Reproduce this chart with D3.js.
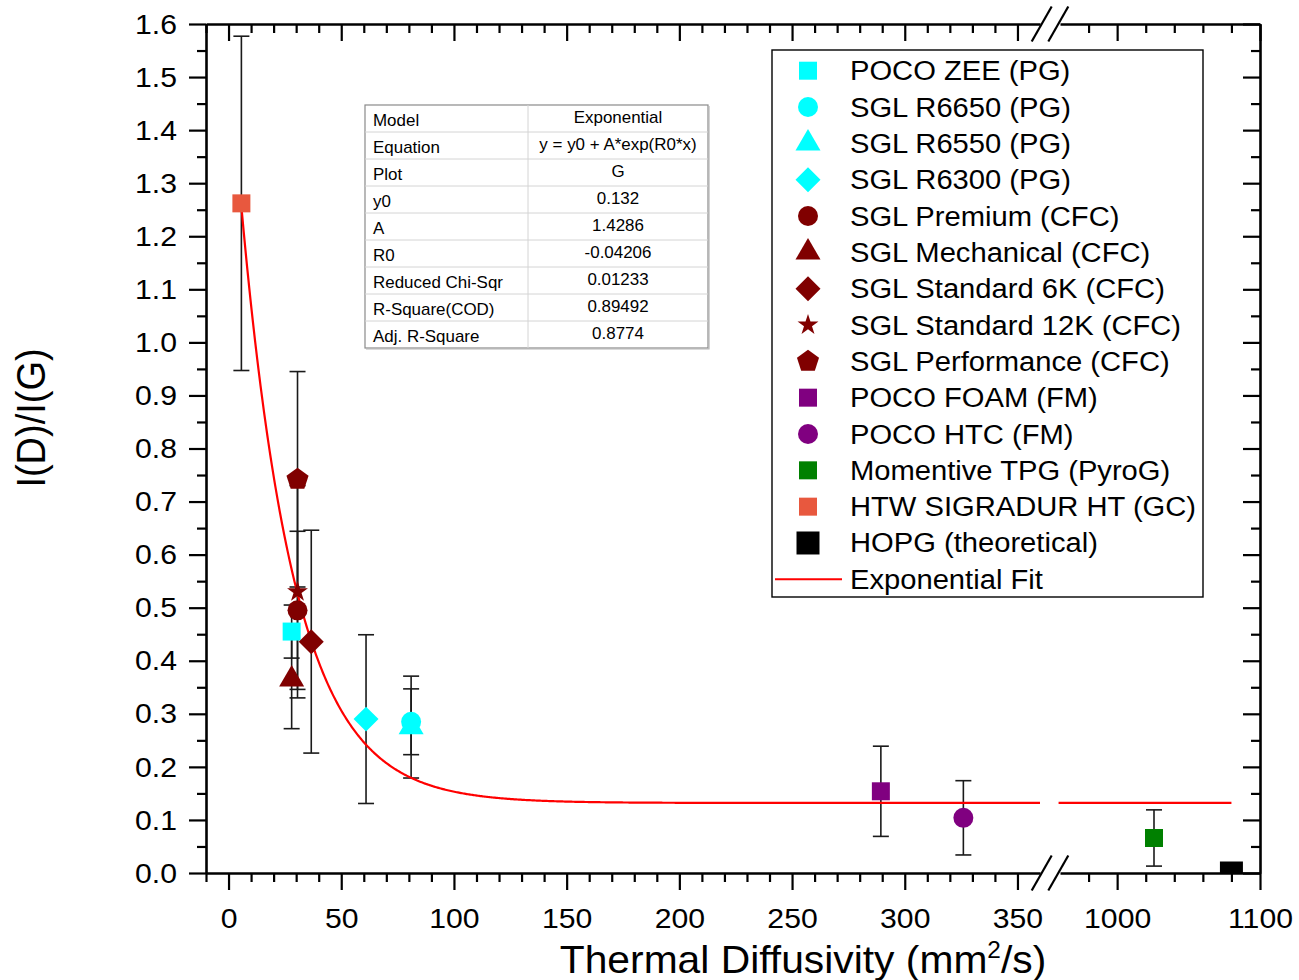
<!DOCTYPE html>
<html>
<head>
<meta charset="utf-8">
<script src="https://cdn.jsdelivr.net/npm/d3@7"></script>
<style>
  html, body { margin: 0; padding: 0; background: #fff; }
  svg { display: block; font-family: "Liberation Sans", Arial, sans-serif; }
</style>
</head>
<body>
<svg id="chart" width="1299" height="980"></svg>
<script>
// ---- data ----
const seriesNames = [
  "POCO ZEE (PG)", "SGL R6650 (PG)", "SGL R6550 (PG)", "SGL R6300 (PG)",
  "SGL Premium (CFC)", "SGL Mechanical (CFC)", "SGL Standard 6K (CFC)",
  "SGL Standard 12K (CFC)", "SGL Performance (CFC)", "POCO FOAM (FM)",
  "POCO HTC (FM)", "Momentive TPG (PyroG)", "HTW SIGRADUR HT (GC)",
  "HOPG (theoretical)"
];
const diffusivity = [28.0, 81.0, 81.0, 61.0, 30.6, 28.0, 36.7, 30.6, 30.6, 289.4, 326.0, 1025.8, 5.7, 1080];
const ratioDG     = [0.455, 0.285, 0.275, 0.290, 0.495, 0.365, 0.436, 0.530, 0.742, 0.154, 0.104, 0.066, 1.262, 0.0];
const ratioError  = [0.050, 0.062, 0.096, 0.159, 0.149, 0.093, 0.210, 0.200, 0.203, 0.085, 0.070, 0.053, 0.315, 0];

// exponential fit parameters
const fitY0 = 0.132, fitA = 1.4286, fitR0 = -0.04206;
const fitChiSqr = 0.01233, fitRSquare = 0.89492, fitAdjRSquare = 0.8774;

const tableLabels = ["Model", "Equation", "Plot", "y0", "A", "R0", "Reduced Chi-Sqr", "R-Square(COD)", "Adj. R-Square"];
const tableValues = ["Exponential", "y = y0 + A*exp(R0*x)", "G", fitY0, fitA, fitR0, fitChiSqr, fitRSquare, fitAdjRSquare];

// axis ticks
const yTicks = [0, 0.1, 0.2, 0.3, 0.4, 0.5, 0.6, 0.7, 0.8, 0.9, 1.0, 1.1, 1.2, 1.3, 1.4, 1.5, 1.6];
const xTicksLow = [0, 50, 100, 150, 200, 250, 300, 350];
const xTicksHigh = [1000, 1100];

// ---- styles ----
const cyan = "#00ffff", maroon = "#800000", purple = "#800080", green = "#008000", orange = "#e8583e";
const markerColors = [cyan, cyan, cyan, cyan, maroon, maroon, maroon, maroon, maroon, purple, purple, green, orange, "#000"];

const symbolRotDiamond = {
  draw(ctx, size) {
    const r = Math.sqrt(size / 2);
    ctx.moveTo(0, -r); ctx.lineTo(r, 0); ctx.lineTo(0, r); ctx.lineTo(-r, 0); ctx.closePath();
  }
};
const symbolPentagon = {
  draw(ctx, size) {
    const R = Math.sqrt(size);
    for (let i = 0; i < 5; i++) {
      const a = -Math.PI / 2 + i * 2 * Math.PI / 5;
      const px = R * Math.cos(a), py = R * Math.sin(a);
      if (i === 0) ctx.moveTo(px, py); else ctx.lineTo(px, py);
    }
    ctx.closePath();
  }
};
const sq = d3.symbolSquare, ci = d3.symbolCircle, tr = d3.symbolTriangle, st = d3.symbolStar;
const markerTypes = [sq, ci, tr, symbolRotDiamond, ci, tr, symbolRotDiamond, st, symbolPentagon, sq, ci, sq, sq, sq];
const markerSizes = [324, 314, 271, 312, 314, 271, 312, 136, 135, 324, 314, 324, 324, 529];

const SX = 1.06; // horizontal text stretch

// ---- layout ----
const L = 206, R = 1260, T = 24, B = 873;
const BREAK_LO = 1040, BREAK_HI = 1060;

const y = d3.scaleLinear([0, 1.6], [B, T]);
const xLow = d3.scaleLinear([-10, 360], [L, BREAK_LO]);
const xHigh = d3.scaleLinear([960, 1100], [BREAK_HI, R]);
const xAt = v => (v <= 360 ? xLow(v) : xHigh(v));

const svg = d3.select("#chart");
const defs = svg.append("defs");
defs.append("clipPath").attr("id", "plotClip")
  .append("rect").attr("x", L).attr("y", T).attr("width", R - L).attr("height", B - T);

// ---- axes ----
const yMinor = d3.range(0.05, 1.6, 0.1);
const xMinorLow = d3.range(-10, 360, 10).filter(v => v % 50 !== 0);
const xMinorHigh = [980, 1020, 1040, 1060, 1080];

function styleAxis(g, showDomain) {
  g.select(".domain").attr("stroke", "#000").attr("stroke-width", 2.6);
  if (!showDomain) g.select(".domain").remove();
  g.selectAll(".tick line").attr("stroke", "#000").attr("stroke-width", 2.2);
  g.selectAll(".tick text").style("font-size", "28.5px")
    .style("font-family", '"Liberation Sans", Arial, sans-serif').attr("fill", "#000");
}

// bottom and top
[[xLow, xTicksLow, xMinorLow], [xHigh, xTicksHigh, xMinorHigh]].forEach(([sc, major, minor]) => {
  svg.append("g").attr("transform", `translate(0,${B})`)
    .call(d3.axisBottom(sc).tickValues(minor).tickSize(9).tickSizeOuter(0).tickFormat(""))
    .call(g => styleAxis(g, false));
  svg.append("g").attr("transform", `translate(0,${B})`)
    .call(d3.axisBottom(sc).tickValues(major).tickSize(17).tickSizeOuter(0).tickPadding(18).tickFormat(d3.format("d")))
    .call(g => styleAxis(g, true))
    .call(g => g.selectAll(".tick text").attr("transform", `scale(${SX},1)`));
  svg.append("g").attr("transform", `translate(0,${T})`)
    .call(d3.axisBottom(sc).tickValues(minor).tickSize(9).tickSizeOuter(0).tickFormat(""))
    .call(g => styleAxis(g, false));
  svg.append("g").attr("transform", `translate(0,${T})`)
    .call(d3.axisBottom(sc).tickValues(major).tickSize(17).tickSizeOuter(0).tickFormat(""))
    .call(g => styleAxis(g, true));
});

// left
svg.append("g").attr("transform", `translate(${L},0)`)
  .call(d3.axisLeft(y).tickValues(yMinor).tickSize(9).tickSizeOuter(0).tickFormat(""))
  .call(g => styleAxis(g, false));
svg.append("g").attr("transform", `translate(${L},0)`)
  .call(d3.axisLeft(y).tickValues(yTicks).tickSize(17).tickSizeOuter(0).tickFormat(d3.format(".1f")))
  .call(g => styleAxis(g, true))
  .call(g => g.selectAll(".tick text").attr("x", -29 / SX).attr("transform", `scale(${SX},1)`));
// right
svg.append("g").attr("transform", `translate(${R},0)`)
  .call(d3.axisLeft(y).tickValues(yMinor).tickSize(9).tickSizeOuter(0).tickFormat(""))
  .call(g => styleAxis(g, false));
svg.append("g").attr("transform", `translate(${R},0)`)
  .call(d3.axisLeft(y).tickValues(yTicks).tickSize(17).tickSizeOuter(0).tickFormat(""))
  .call(g => styleAxis(g, true));

// axis break marks
const breakCenters = [1041.7, 1058.3];
[T, B].forEach(yy => {
  breakCenters.forEach(cx => {
    svg.append("line")
      .attr("x1", cx - 10).attr("y1", yy + 17.5)
      .attr("x2", cx + 10).attr("y2", yy - 17.5)
      .attr("stroke", "#000").attr("stroke-width", 2.2);
  });
});

// axis titles
svg.append("text")
  .attr("transform", `translate(45,418) scale(${SX},1) rotate(-90)`)
  .attr("text-anchor", "middle")
  .style("font-size", "38px")
  .text("I(D)/I(G)");

const xTitle = svg.append("text")
  .attr("transform", `translate(803,973) scale(${SX},1)`)
  .attr("text-anchor", "middle")
  .style("font-size", "38.5px");
xTitle.append("tspan").text("Thermal Diffusivity (mm");
xTitle.append("tspan").attr("dy", -15).style("font-size", "23px").text("2");
xTitle.append("tspan").attr("dy", 15).text("/s)");

// ---- plot contents ----
const plot = svg.append("g").attr("clip-path", "url(#plotClip)");
const points = seriesNames.map((name, i) => ({
  name, x: diffusivity[i], y: ratioDG[i], e: ratioError[i],
  color: markerColors[i], type: markerTypes[i], size: markerSizes[i]
}));

// error bars
const capW = 8;
const eb = plot.append("g").attr("stroke", "#1a1a1a").attr("stroke-width", 1.6);
points.filter(p => p.e > 0).forEach(p => {
  const px = xAt(p.x), y1 = y(p.y - p.e), y2 = y(p.y + p.e);
  eb.append("line").attr("x1", px).attr("x2", px).attr("y1", y1).attr("y2", y2);
  eb.append("line").attr("x1", px - capW).attr("x2", px + capW).attr("y1", y1).attr("y2", y1);
  eb.append("line").attr("x1", px - capW).attr("x2", px + capW).attr("y1", y2).attr("y2", y2);
});

// exponential fit
const fit = x => fitY0 + fitA * Math.exp(fitR0 * x);
const xStart = d3.min(diffusivity), xEnd = d3.max(diffusivity);
const fitLine = d3.line().x(d => xAt(d)).y(d => y(fit(d)));
const segLow = d3.range(xStart, 360, 0.5).concat([360]);
const segHigh = [959, xEnd];
[segLow, segHigh].forEach(seg => {
  plot.append("path").attr("d", fitLine(seg))
    .attr("fill", "none").attr("stroke", "#ff0000").attr("stroke-width", 2.2);
});

// markers
plot.selectAll("path.marker").data(points).join("path")
  .attr("class", "marker")
  .attr("transform", d => `translate(${xAt(d.x)},${y(d.y)})`)
  .attr("d", d => d3.symbol().type(d.type).size(d.size)())
  .attr("fill", d => d.color);

// ---- fit result table ----
const tb = { x: 365, y: 105, w: 343, rowH: 27, split: 528 };
const table = svg.append("g");
const tH = tb.rowH * tableLabels.length;
table.append("rect").attr("x", tb.x).attr("y", tb.y).attr("width", tb.w).attr("height", tH)
  .attr("fill", "#fff").attr("stroke", "#8a8a8a").attr("stroke-width", 1.2);
table.append("path")
  .attr("d", `M${tb.x + tb.w + 1},${tb.y + 1}V${tb.y + tH + 1}H${tb.x + 1}`)
  .attr("fill", "none").attr("stroke", "#b5b5b5").attr("stroke-width", 1.2);
tableLabels.forEach((lab, i) => {
  const top = tb.y + i * tb.rowH;
  if (i > 0) table.append("line").attr("x1", tb.x).attr("x2", tb.x + tb.w)
    .attr("y1", top).attr("y2", top).attr("stroke", "#d4d4d4").attr("stroke-width", 1);
  table.append("text").attr("transform", `translate(${tb.x + 8},${top + 21}) scale(${SX},1)`)
    .style("font-size", "16px").text(lab);
  table.append("text").attr("transform", `translate(${(tb.split + tb.x + tb.w) / 2},${top + 18}) scale(${SX},1)`)
    .attr("text-anchor", "middle").style("font-size", "16px").text(String(tableValues[i]));
});
table.append("line").attr("x1", tb.split).attr("x2", tb.split)
  .attr("y1", tb.y).attr("y2", tb.y + tH).attr("stroke", "#d4d4d4").attr("stroke-width", 1);

// ---- legend ----
const lg = { x: 772, y: 50, w: 431, h: 547, first: 70.7, step: 36.33, symX: 808, textX: 850 };
const legend = svg.append("g");
legend.append("rect").attr("x", lg.x).attr("y", lg.y).attr("width", lg.w).attr("height", lg.h)
  .attr("fill", "#fff").attr("stroke", "#000").attr("stroke-width", 1.4);
points.forEach((p, i) => {
  const cy = lg.first + i * lg.step;
  legend.append("path").attr("transform", `translate(${lg.symX},${cy})`)
    .attr("d", d3.symbol().type(p.type).size(p.size)()).attr("fill", p.color);
  legend.append("text").attr("transform", `translate(${lg.textX},${cy + 9.5}) scale(1.08,1)`)
    .style("font-size", "27px").text(p.name);
});
const fitY = lg.first + points.length * lg.step;
legend.append("line").attr("x1", 775).attr("x2", 842).attr("y1", fitY).attr("y2", fitY)
  .attr("stroke", "#ff0000").attr("stroke-width", 2);
legend.append("text").attr("transform", `translate(${lg.textX},${fitY + 9.5}) scale(1.08,1)`)
  .style("font-size", "27px").text("Exponential Fit");
</script>
</body>
</html>
